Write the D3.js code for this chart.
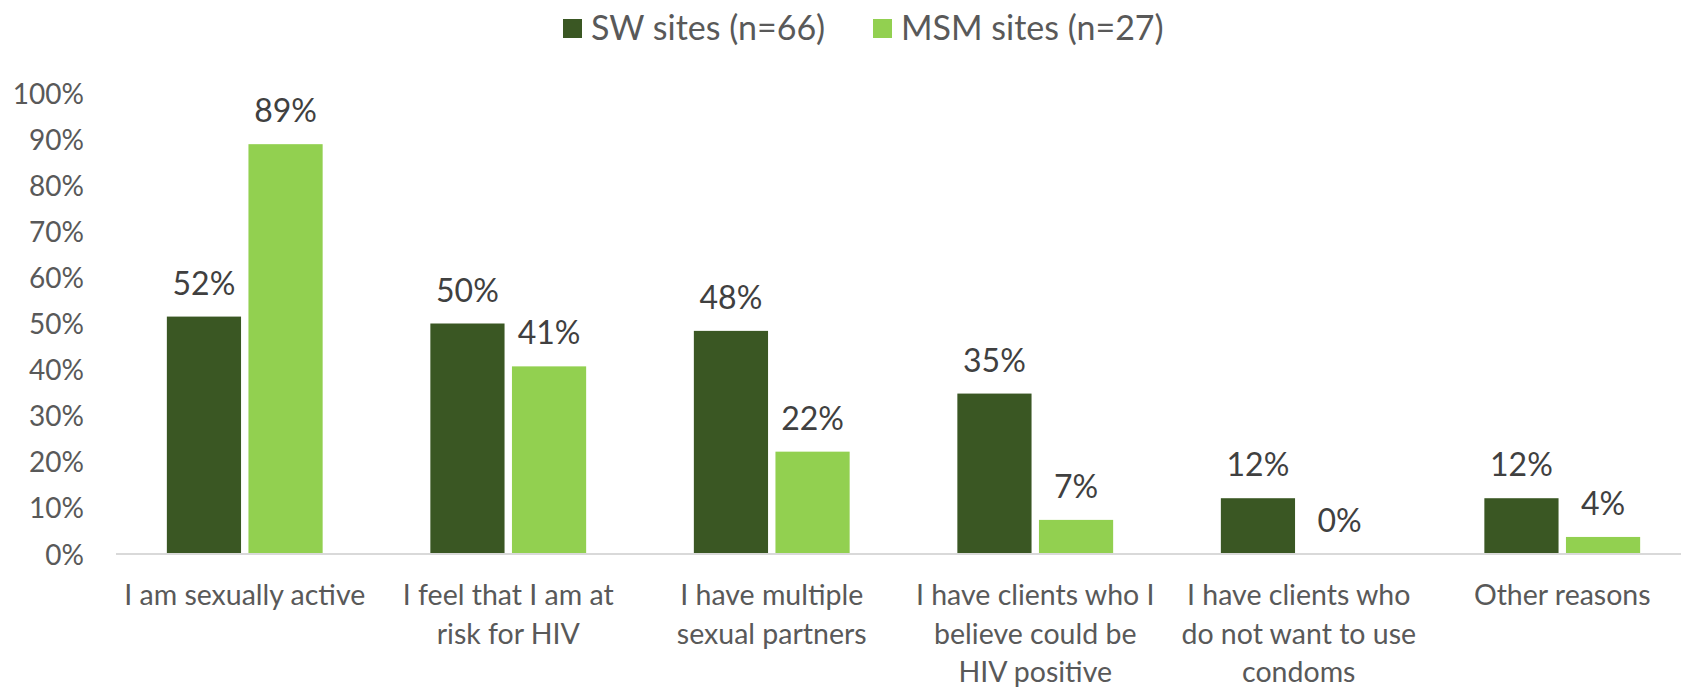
<html>
<head>
<script src="https://d3js.org/d3.v7.min.js"></script>
<style>
body { margin: 0; background: #fff; }
text { font-family: Lato, "Open Sans", sans-serif; }
</style>
</head>
<body>
<svg width="1681" height="687"></svg>
<script>
const categories = [
  ["I am sexually active"],
  ["I feel that I am at", "risk for HIV"],
  ["I have multiple", "sexual partners"],
  ["I have clients who I", "believe could be", "HIV positive"],
  ["I have clients who", "do not want to use", "condoms"],
  ["Other reasons"]
];
const seriesNames = ["SW sites (n=66)", "MSM sites (n=27)"];
const swValues = [51.5, 50.0, 48.4, 34.8, 12.1, 12.1];
const msmValues = [88.9, 40.7, 22.2, 7.4, 0, 3.7];
const yTicks = [0, 10, 20, 30, 40, 50, 60, 70, 80, 90, 100];
const colors = ["#3a5723", "#92d050"];

const svg = d3.select("svg");
// band range runs a bit past the right edge, like the original
const plotLeft = 113, plotRight = 1694, plotTop = 93, plotBottom = 554;

const keys = categories.map((c, i) => i);
const x0 = d3.scaleBand().domain(keys).range([plotLeft, plotRight]);
const x1 = d3.scaleBand().domain([0, 1]).range([0, x0.bandwidth()])
  .paddingInner(0.0909).paddingOuter(0.66);
const y = d3.scaleLinear().domain([0, 100]).range([plotBottom, plotTop]);

// y axis labels
const yAxis = d3.axisLeft(y).tickValues(yTicks).tickSize(0).tickPadding(0)
  .tickFormat(d => d + "%");
svg.append("g")
  .attr("transform", "translate(84,0)")
  .call(yAxis)
  .call(g => g.select(".domain").remove())
  .call(g => g.selectAll("text")
    .attr("fill", "#595959")
    .style("font-family", "Lato")
    .style("font-size", "28px")
    .attr("dy", "0.36em"));

// bars
const data = keys.map(i => [swValues[i], msmValues[i]]);
const groups = svg.append("g").selectAll("g")
  .data(data)
  .join("g")
  .attr("transform", (d, i) => `translate(${x0(i)},0)`);

groups.selectAll("rect")
  .data(d => d)
  .join("rect")
  .attr("x", (d, j) => x1(j))
  .attr("width", x1.bandwidth())
  .attr("y", d => y(d))
  .attr("height", d => y(0) - y(d))
  .attr("fill", (d, j) => colors[j]);

groups.selectAll("text")
  .data(d => d)
  .join("text")
  .attr("x", (d, j) => x1(j) + x1.bandwidth() / 2)
  .attr("y", d => y(d) - 22)
  .attr("text-anchor", "middle")
  .attr("fill", "#404040")
  .style("font-size", "32px")
  .text(d => Math.round(d) + "%");

// baseline
svg.append("line")
  .attr("x1", 116).attr("x2", 1681)
  .attr("y1", y(0)).attr("y2", y(0))
  .attr("stroke", "#d9d9d9").attr("stroke-width", 2);

// category labels
const xAxis = d3.axisBottom(x0).tickSize(0).tickFormat("");
const xg = svg.append("g").attr("transform", `translate(0,${plotBottom})`).call(xAxis);
xg.select(".domain").remove();
xg.selectAll(".tick").each(function(i) {
  const t = d3.select(this).append("text")
    .attr("text-anchor", "middle")
    .attr("fill", "#595959")
    .style("font-size", "28.5px");
  categories[i].forEach((line, k) => {
    t.append("tspan").attr("x", 0).attr("y", 51 + k * 38.5).text(line);
  });
});

// legend
const legend = svg.append("g");
const legX = [563, 873];
seriesNames.forEach((name, i) => {
  legend.append("rect")
    .attr("x", legX[i]).attr("y", 19)
    .attr("width", 19).attr("height", 19)
    .attr("fill", colors[i]);
  legend.append("text")
    .attr("x", legX[i] + 28).attr("y", 40)
    .attr("fill", "#595959")
    .style("font-size", "34px")
    .text(name);
});
</script>
</body>
</html>
